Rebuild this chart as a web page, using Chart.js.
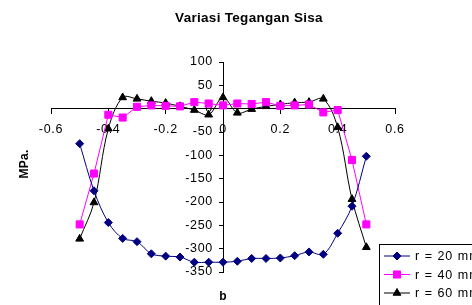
<!DOCTYPE html>
<html lang="en">
<head>
    <meta charset="UTF-8">
    <title>Variasi Tegangan Sisa</title>
    <script src="https://cdn.jsdelivr.net/npm/chart.js"></script>
    <style>
        html, body { margin: 0; padding: 0; background: #fff; }
        #wrap { width: 472px; height: 305px; }
    </style>
</head>
<body>
    <div id="wrap"><canvas id="stressChart" width="472" height="305"></canvas></div>

    <script>
        // position b along the specimen
        const positions = [-0.5, -0.45, -0.4, -0.35, -0.3, -0.25, -0.2, -0.15, -0.1, -0.05, 0,
                           0.05, 0.1, 0.15, 0.2, 0.25, 0.3, 0.35, 0.4, 0.45, 0.5];

        // residual stress (MPa) per radius
        const r20 = [-75, -176, -244, -278, -285, -311, -316, -318, -329, -329, -329,
                     -327, -321, -321, -320, -315, -307, -312, -267, -209, -102];
        const r40 = [-248, -139, -13, -19, 4, 7, 6, 5, 14, 11, 7,
                     11, 10, 14, 6, 7, 9, -8, -3, -110, -248];
        const r60 = [-279, -201, -43, 24, 21, 16, 12, 5, -3, -13, 24,
                     -9, -1, 5, 9, 13, 14, 21, -40, -194, -297];

        const seriesNames = ['r = 20 mm', 'r = 40 mm', 'r = 60 mm'];
        const xTicks = [-0.6, -0.4, -0.2, 0, 0.2, 0.4, 0.6];
        const yTicks = [-350, -300, -250, -200, -150, -100, -50, 0, 50, 100];

        const FONT = "'Liberation Sans', Arial, sans-serif";
        Chart.defaults.font.family = FONT;
        Chart.defaults.color = '#000';

        const toPoints = vals => vals.map((v, i) => ({ x: positions[i], y: v }));

        const styles = [
            { color: '#000080', shape: 'rectRot', radius: 4, tension: 0.35 },
            { color: '#FF00FF', shape: 'rect', radius: 5, tension: 0 },
            { color: '#000000', shape: 'triangle', radius: 4.5, tension: 0.35 }
        ];

        // Excel-ish wider letter spacing for the tick labels
        const spacing = {
            id: 'spacing',
            beforeInit(chart) { chart.ctx.letterSpacing = '0.7px'; },
            beforeDraw(chart) { chart.ctx.letterSpacing = '0.7px'; }
        };

        // title, axis titles and the clipped legend box
        const decorations = {
            id: 'decorations',
            afterDraw(chart) {
                const ctx = chart.ctx;
                ctx.save();
                ctx.fillStyle = '#000';
                ctx.textBaseline = 'middle';

                ctx.letterSpacing = '0.3px';
                ctx.font = 'bold 13.5px ' + FONT;
                ctx.textAlign = 'center';
                ctx.fillText('Variasi Tegangan Sisa', 249, 18);

                ctx.font = 'bold 12px ' + FONT;
                ctx.fillText('b', 223, 297);

                ctx.save();
                ctx.translate(25, 164);
                ctx.rotate(-Math.PI / 2);
                ctx.fillText('MPa.', 0, 0);
                ctx.restore();

                // legend
                ctx.strokeStyle = '#000';
                ctx.lineWidth = 1;
                ctx.strokeRect(379.5, 244.5, 120, 80);
                ctx.font = '12.5px ' + FONT;
                ctx.letterSpacing = '1px';
                ctx.textAlign = 'left';
                seriesNames.forEach((name, i) => {
                    const y = 256 + i * 18.5;
                    const s = styles[i];
                    ctx.strokeStyle = s.color;
                    ctx.beginPath();
                    ctx.moveTo(384, y);
                    ctx.lineTo(410, y);
                    ctx.stroke();
                    ctx.fillStyle = s.color;
                    Chart.helpers.drawPoint(ctx, {
                        pointStyle: s.shape, radius: s.radius, borderWidth: 1, rotation: 0
                    }, 397, y);
                    ctx.fillStyle = '#000';
                    ctx.fillText(name, 415, y + 1);
                });
                ctx.restore();
            }
        };

        const ctx = document.getElementById('stressChart').getContext('2d');
        const stressChart = new Chart(ctx, {
            type: 'line',
            data: {
                datasets: [r20, r40, r60].map((vals, i) => ({
                    label: seriesNames[i],
                    data: toPoints(vals),
                    borderColor: styles[i].color,
                    backgroundColor: styles[i].color,
                    borderWidth: 1,
                    pointStyle: styles[i].shape,
                    pointRadius: styles[i].radius,
                    pointBorderWidth: 1,
                    tension: styles[i].tension,
                    fill: false
                }))
            },
            options: {
                responsive: false,
                animation: false,
                layout: { padding: { left: 51, right: 77, top: 62, bottom: 33 } },
                plugins: {
                    legend: { display: false },
                    title: { display: false },
                    tooltip: { enabled: false }
                },
                scales: {
                    x: {
                        type: 'linear',
                        position: { y: 0 },
                        min: -0.6,
                        max: 0.6,
                        afterBuildTicks: axis => { axis.ticks = xTicks.map(v => ({ value: v })); },
                        ticks: {
                            font: { size: 12.5 },
                            padding: 8,
                            maxRotation: 0,
                            callback: v => String(Math.round(v * 10) / 10)
                        },
                        grid: { drawOnChartArea: false, drawTicks: true, tickLength: 5, color: '#000' },
                        border: { display: true, color: '#000', width: 1 }
                    },
                    y: {
                        type: 'linear',
                        // x range is symmetric, so the centre is x = 0
                        position: 'center',
                        min: -350,
                        max: 100,
                        afterBuildTicks: axis => { axis.ticks = yTicks.map(v => ({ value: v })); },
                        ticks: { font: { size: 12.5 }, padding: 6 },
                        grid: { drawOnChartArea: false, drawTicks: true, tickLength: 4, color: '#000' },
                        border: { display: true, color: '#000', width: 1 }
                    }
                }
            },
            plugins: [spacing, decorations]
        });
    </script>
</body>
</html>
